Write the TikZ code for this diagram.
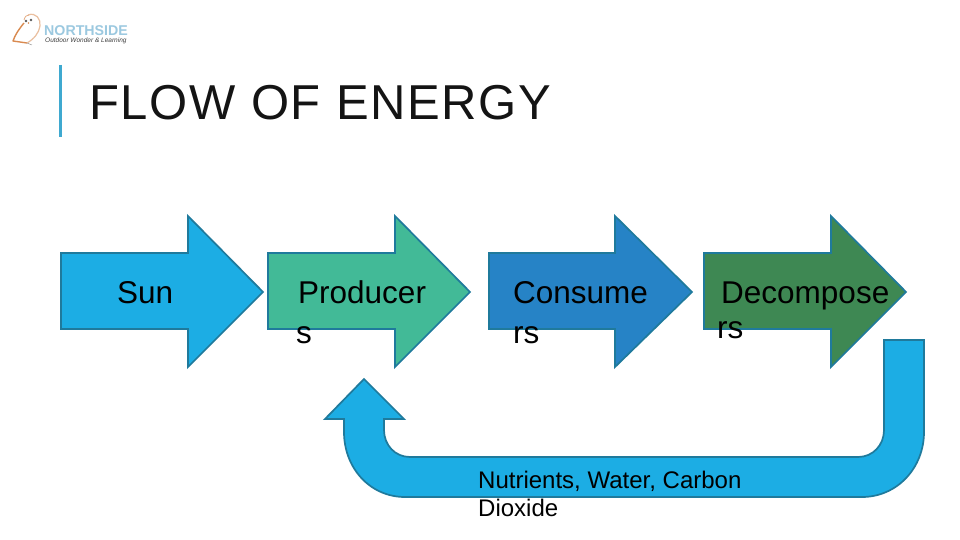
\documentclass[tikz,border=0pt]{standalone}
\usepackage{fontspec}
\setmainfont{Liberation Sans}
\newfontfamily\spacedfont[LetterSpace=3.4]{Liberation Sans}
\definecolor{edgeb}{HTML}{1F7A9C}
\definecolor{sunc}{HTML}{1CADE4}
\definecolor{prodc}{HTML}{42BA97}
\definecolor{consc}{HTML}{2683C6}
\definecolor{decc}{HTML}{3E8853}
\definecolor{barc}{HTML}{3FA9D0}
\definecolor{logob}{HTML}{9CC9E0}
\definecolor{logoo}{HTML}{D98A50}
\definecolor{titlec}{HTML}{141414}
\newcommand{\fs}[1]{\fontsize{#1}{#1}\selectfont}
\tikzset{
  flow/.style={draw=edgeb,line width=1.7pt,line join=miter},
  lab/.style={anchor=base west,inner sep=0pt,text=black},
  big/.style={lab,font=\fs{31.5}},
  small/.style={lab,font=\fs{24}}
}
\begin{document}
\begin{tikzpicture}[x=1pt,y=-1pt]
\useasboundingbox (0,0) rectangle (960,540);
\fill[white] (0,0) rectangle (960,540);
% logo
\draw[logoo,line width=1.4pt,line join=round] (24,23) .. controls (19,29) and (15,35) .. (13,41) -- (27,43);
\draw[logoo!55!white,line width=1.2pt] (28,15) .. controls (36,12) and (41,19) .. (40,26) .. controls (39,33) and (34,39) .. (27,43);
\draw[logoo!70!white,line width=.8pt] (24,20) .. controls (25,16) and (27,15) .. (29,15);
\fill[black!65] (26,21) circle (1.3) (31,20) circle (1.3);
\fill[logoo] (28.5,23) circle (.8);
\draw[black!40,line width=.5pt] (27,43) -- (32,45);
\node[lab,text=logob,font=\fs{14.2}\bfseries] (brand) at (44,36) {NORTHSIDE};
\node[lab,text=black!75,font=\fs{6.5}\itshape] (tag) at (45,43) {Outdoor Wonder \& Learning};
% title
\draw[barc,line width=3pt] (60,65) -- (60,137);
\node[lab,text=titlec,font=\fs{49}\spacedfont] (title) at (89,120) {FLOW OF ENERGY};
% arrows
\draw[flow,fill=sunc] (61,253) -- (188,253) -- (188,216) -- (263,292) -- (188,367) -- (188,329) -- (61,329) -- cycle;
\draw[flow,fill=prodc] (268,253) -- (395,253) -- (395,216) -- (470,292) -- (395,367) -- (395,329) -- (268,329) -- cycle;
\draw[flow,fill=consc] (489,253) -- (615,253) -- (615,216) -- (692,292) -- (615,367) -- (615,329) -- (489,329) -- cycle;
\draw[flow,fill=decc] (704,253) -- (831,253) -- (831,216) -- (906,292) -- (831,367) -- (831,329) -- (704,329) -- cycle;
% return arrow
\draw[flow,fill=sunc] (884,340) -- (924,340) -- (924,432)
  .. controls (924,468) and (897,497) .. (862,497) -- (405,497)
  .. controls (370,497) and (344,468) .. (344,432) -- (344,419) -- (325,419) -- (364,379) -- (404,419) -- (384,419) -- (384,430)
  .. controls (384,445) and (395,457) .. (410,457) -- (858,457)
  .. controls (873,457) and (884,445) .. (884,430) -- cycle;
% labels
\node[big] (sun) at (117,303) {Sun};
\node[big] (p1) at (298,303) {Producer};
\node[big] (p2) at (296,343) {s};
\node[big] (c1) at (513,303) {Consume};
\node[big] (c2) at (513,343) {rs};
\node[big] (d1) at (721,303) {Decompose};
\node[big] (d2) at (717,338) {rs};
\node[small] (n1) at (478,488) {Nutrients, Water, Carbon};
\node[small] (n2) at (478,516) {Dioxide};
\end{tikzpicture}
\end{document}
